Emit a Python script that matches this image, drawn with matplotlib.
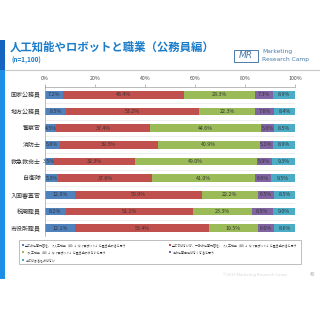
import matplotlib.pyplot as plt
import matplotlib.patches as patches
import numpy as np

plt.rcParams['font.family'] = ['Noto Sans CJK JP', 'DejaVu Sans']

categories = ['国家公務員', '地方公務員', '警察官', '消防士', '救急救命士',
              '自衛隊', '入国審査官', '税関職員', '市役所職員']
all_replaced = [7.2, 8.5, 4.5, 5.8, 3.5, 5.3, 12.0, 8.2, 12.1]
partly_replaced = [48.4, 53.2, 37.4, 39.3, 32.3, 37.6, 50.9, 51.1, 53.4]
not_replaced = [28.3, 22.3, 44.6, 40.9, 49.0, 41.0, 22.2, 23.3, 19.5]
job_gone = [7.3, 7.6, 5.0, 5.1, 5.9, 6.6, 6.5, 8.5, 6.6]
none_apply = [8.9, 8.4, 8.5, 8.9, 9.3, 9.5, 8.5, 9.0, 8.6]

series_labels = [
    '全ての仕事内容を、「人工知能（AI）」や「ロボット」に置き換わると思う',
    '全てではないが、一部の仕事内容を、「人工知能（AI）」や「ロボット」に置き換わると思う',
    '「人工知能（AI）」や「ロボット」に置き換わらないと思う',
    'この仕事自体はなくなると思う',
    '当てはまるものはない',
]
colors = ['#4F81BD', '#C0504D', '#9BBB59', '#8064A2', '#4BACC6']
tick_labels = ['0%', '20%', '40%', '60%', '80%', '100%']

fig = plt.figure(figsize=(3.2, 3.2), dpi=100)
fig.patch.set_facecolor('white')

# left accent strip
fig.add_artist(patches.Rectangle((0, 1 - 70 / 320), 5 / 320, 30 / 320,
                                 transform=fig.transFigure, color='#1565C0', lw=0))
fig.add_artist(patches.Rectangle((0, 1 - 279 / 320), 5 / 320, 209 / 320,
                                 transform=fig.transFigure, color='#1E8FE6', lw=0))
# separator under header
fig.add_artist(plt.Line2D([5 / 320, 1], [1 - 70 / 320, 1 - 70 / 320],
                          transform=fig.transFigure, color='#C8C8C8', lw=0.8))

fig.text(10 / 320, 1 - 47 / 320, '人工知能やロボットと職業（公務員編）', fontsize=8.2,
         fontweight='bold', color='#1A7CC9', va='center', ha='left')
fig.text(11 / 320, 1 - 60 / 320, '(n=1,100)', fontsize=4.6, fontweight='bold',
         color='#1A7CC9', va='center', ha='left')

# logo
fig.add_artist(patches.Rectangle((234 / 320, 1 - 62 / 320), 24 / 320, 12 / 320,
                                 transform=fig.transFigure, fill=False,
                                 ec='#4A7BA8', lw=0.7))
fig.text(246 / 320, 1 - 56 / 320, 'MR', fontsize=6.5, color='#4A7BA8',
         ha='center', va='center', fontstyle='italic', family='DejaVu Sans')
fig.text(262 / 320, 1 - 52 / 320, 'Marketing', fontsize=4.3, color='#4A7BA8',
         ha='left', va='center', family='DejaVu Sans')
fig.text(262 / 320, 1 - 60 / 320, 'Research Camp', fontsize=4.3, color='#4A7BA8',
         ha='left', va='center', family='DejaVu Sans')

ax = fig.add_axes([45 / 320, 1 - 236.5 / 320, 250 / 320, 150 / 320])
y = np.arange(len(categories))
data = [all_replaced, partly_replaced, not_replaced, job_gone, none_apply]
left = np.zeros(len(categories))
for vals, col, lab in zip(data, colors, series_labels):
    vals = np.array(vals)
    ax.barh(y, vals, left=left, height=0.45, color=col, label=lab, lw=0)
    for yi, l, v in zip(y, left, vals):
        ax.text(l + v / 2, yi, f'{v:.1f}%', ha='center', va='center',
                fontsize=3.8, color='#333333')
    left += vals

ax.set_xlim(0, 100)
ax.set_ylim(len(categories) - 0.5, -0.5)
ax.set_yticks(y)
ax.set_yticklabels(categories, fontsize=4.3, color='#333333')
ax.set_xticks([0, 20, 40, 60, 80, 100])
ax.set_xticklabels(tick_labels, fontsize=3.8, color='#444444')
ax.xaxis.tick_top()
ax.tick_params(axis='x', length=2, width=0.4, pad=2, colors='#888888',
               labelcolor='#444444')
ax.tick_params(axis='y', length=0, pad=3)
for s in ['right', 'bottom']:
    ax.spines[s].set_visible(False)
for s in ['left', 'top']:
    ax.spines[s].set_color('#A0A0A0')
    ax.spines[s].set_linewidth(0.5)
for yb in np.arange(0.5, len(categories) - 0.5, 1):
    ax.axhline(yb, color='#E4E4E4', lw=0.4, zorder=0)

handles, labels = ax.get_legend_handles_labels()
order = [0, 2, 4, 1, 3]
leg = fig.legend([handles[i] for i in order], [labels[i] for i in order],
                 loc='upper left',
                 bbox_to_anchor=(18 / 320, 1 - 263 / 320, 284 / 320, 24 / 320),
                 mode='expand', ncol=2, fontsize=2.15, frameon=True, fancybox=False,
                 handlelength=0.6, handleheight=0.6, handletextpad=0.4,
                 borderpad=0.9, labelspacing=1.1, columnspacing=1.0)
leg.get_frame().set_edgecolor('#A0A0A0')
leg.get_frame().set_linewidth(0.6)
for t in leg.get_texts():
    t.set_color('#333333')

fig.text(255 / 320, 1 - 275 / 320, '©2016 Marketing Research Camp', fontsize=3,
         color='#D8D8D8', ha='center', va='center')
fig.text(313 / 320, 1 - 274 / 320, '40', fontsize=3.5, color='#AAAAAA',
         ha='center', va='center')

fig.savefig('out.png', dpi=100, facecolor='white')
